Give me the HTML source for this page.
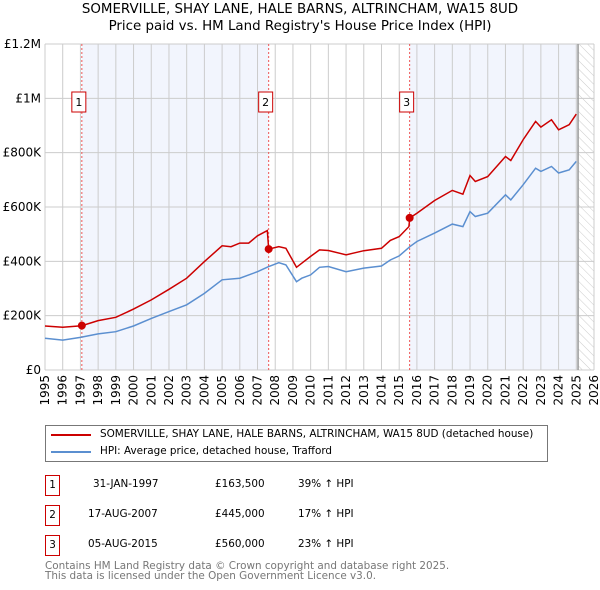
<!DOCTYPE html>
<html><head><meta charset="utf-8"><style>
body{margin:0;width:600px;height:590px;background:#fff;font-family:"DejaVu Sans","Liberation Sans",sans-serif;overflow:hidden;position:relative}
.t{position:absolute;font-size:10.4px;color:#000;white-space:nowrap}
.box{position:absolute;width:15px;height:21px;border:1px solid #c00;box-sizing:border-box;font-size:10.4px;text-align:center;line-height:19px;background:#fff}
</style></head><body>
<div class="t" style="left:0;width:600px;text-align:center;top:2px;font-size:13.4px">SOMERVILLE, SHAY LANE, HALE BARNS, ALTRINCHAM, WA15 8UD</div>
<div class="t" style="left:0;width:600px;text-align:center;top:19px;font-size:13.4px">Price paid vs. HM Land Registry's House Price Index (HPI)</div>
<svg id="chart" width="600" height="420" style="position:absolute;left:0;top:0"></svg>
<div style="position:absolute;left:45px;top:425px;width:503px;height:37px;border:1px solid #777;box-sizing:border-box">
 <div><div style="position:absolute;left:5px;top:8px;width:40px;height:2px;background:#c00"></div><div class="t" style="left:54px;top:2px">SOMERVILLE, SHAY LANE, HALE BARNS, ALTRINCHAM, WA15 8UD (detached house)</div></div>
 <div><div style="position:absolute;left:5px;top:25px;width:40px;height:2px;background:#5b8fd0"></div><div class="t" style="left:54px;top:19px">HPI: Average price, detached house, Trafford</div></div>
</div>
<div>
 <div class="box" style="left:45px;top:475px">1</div>
 <div class="t" style="left:93px;top:478px">31-JAN-1997</div>
 <div class="t" style="left:215px;top:478px">£163,500</div>
 <div class="t" style="left:298px;top:478px">39% ↑ HPI</div>
</div>
<div>
 <div class="box" style="left:45px;top:505px">2</div>
 <div class="t" style="left:88px;top:508px">17-AUG-2007</div>
 <div class="t" style="left:215px;top:508px">£445,000</div>
 <div class="t" style="left:298px;top:508px">17% ↑ HPI</div>
</div>
<div>
 <div class="box" style="left:45px;top:535px">3</div>
 <div class="t" style="left:88px;top:538px">05-AUG-2015</div>
 <div class="t" style="left:215px;top:538px">£560,000</div>
 <div class="t" style="left:298px;top:538px">23% ↑ HPI</div>
</div>
<div class="t" style="left:45px;top:561px;color:#777;line-height:10px">Contains HM Land Registry data © Crown copyright and database right 2025.<br>This data is licensed under the Open Government Licence v3.0.</div>
<script>
const hpiYears=[1995,1996,1997,1998,1999,2000,2001,2002,2003,2004,2005,2006,2007,2007.6,2008.2,2008.6,2009.2,2009.5,2010,2010.5,2011,2012,2013,2014,2014.5,2015,2015.6,2016,2017,2018,2018.6,2019,2019.3,2020,2021,2021.3,2022,2022.7,2023,2023.6,2024,2024.6,2025];
const hpiValues=[117,110,120,133,141,162,190,215,240,282,332,338,362,380,395,387,325,338,350,378,381,362,375,383,405,420,454,473,504,537,528,583,565,577,645,626,682,743,731,749,725,737,768];
const priceYears=[1995,1996,1997.08,1998,1999,2000,2001,2002,2003,2004,2005,2005.5,2006,2006.5,2007,2007.55,2007.63,2008.2,2008.6,2009.2,2009.5,2010,2010.5,2011,2012,2013,2014,2014.5,2015,2015.55,2015.6,2016,2017,2018,2018.6,2019,2019.3,2020,2021,2021.3,2022,2022.7,2023,2023.6,2024,2024.6,2025];
const priceValues=[162,157,163,182,194,224,258,297,338,399,457,454,467,467,494,513,445,454,448,378,393,418,442,440,424,439,448,477,491,528,560,577,624,661,647,716,694,712,786,771,848,915,894,921,884,903,942];
const saleYears=[1997.08,2007.63,2015.59];
const saleValues=[163.5,445,560];
const yTicks=[0,200,400,600,800,1000,1200];
const yLabels=["£0","£200K","£400K","£600K","£800K","£1M","£1.2M"];
const xTicks=[1995,1996,1997,1998,1999,2000,2001,2002,2003,2004,2005,2006,2007,2008,2009,2010,2011,2012,2013,2014,2015,2016,2017,2018,2019,2020,2021,2022,2023,2024,2025,2026];
const L=45,R=594,T=44,B=370;
const x=y=>L+(y-1995)/(2026-1995)*(R-L);
const yv=v=>B-v/1200*(B-T);
const svg=document.getElementById('chart');
const NS='http://www.w3.org/2000/svg';
const FF='DejaVu Sans, Liberation Sans, sans-serif';
function mk(tag,attrs){const e=document.createElementNS(NS,tag);for(const k in attrs)e.setAttribute(k,attrs[k]);svg.appendChild(e);return e;}
const defs=mk('defs',{});
defs.innerHTML='<pattern id="hatch" width="6" height="6" patternUnits="userSpaceOnUse" patternTransform="rotate(-45)"><line x1="0" y1="0" x2="0" y2="6" stroke="#ccc" stroke-width="1"/></pattern>';
let e;
e=mk('rect',{x:x(saleYears[0]),y:T,width:x(saleYears[1])-x(saleYears[0]),height:B-T,fill:'#f2f5fd'});


e=mk('rect',{x:x(saleYears[2]),y:T,width:x(2025.1)-x(saleYears[2]),height:B-T,fill:'#f2f5fd'});


e=mk('rect',{x:x(2025.1),y:T,width:R-x(2025.1),height:B-T,fill:'url(#hatch)'});


xTicks.forEach((t,i)=>{
 e=mk('line',{x1:x(t),x2:x(t),y1:T,y2:B,stroke:'#ccc','stroke-width':1});
 
 
 e=mk('text',{x:0,y:0,'font-size':12,'text-anchor':'end','dominant-baseline':'central',transform:`translate(${x(t)},${B+5}) rotate(-90)`,'font-family':FF});
 e.textContent=t;
 
 
});
yTicks.forEach((t,i)=>{
 e=mk('line',{x1:L,x2:R,y1:yv(t),y2:yv(t),stroke:'#ccc','stroke-width':1});
 
 
 e=mk('text',{x:L-4,y:yv(t)+4,'font-size':12,'text-anchor':'end','font-family':FF});
 e.textContent=yLabels[i];
 
 
});
e=mk('line',{x1:x(2025.1),x2:x(2025.1),y1:T,y2:B,stroke:'#999','stroke-width':1.5});


saleYears.forEach((s,i)=>{
 e=mk('line',{x1:x(s),x2:x(s),y1:T,y2:B,stroke:'#e55','stroke-width':1,'stroke-dasharray':'2,2'});
 
 
});
const pts=(xs,vs)=>xs.map((t,i)=>x(t).toFixed(1)+','+yv(vs[i]).toFixed(1)).join(' ');
e=mk('polyline',{points:pts(hpiYears,hpiValues),fill:'none',stroke:'#5b8fd0','stroke-width':1.5});


e=mk('polyline',{points:pts(priceYears,priceValues),fill:'none',stroke:'#c00','stroke-width':1.5});


saleYears.forEach((s,i)=>{
 e=mk('circle',{cx:x(s),cy:yv(saleValues[i]),r:4,fill:'#c00'});
 
 
 e=mk('rect',{x:x(s)-10,y:92,width:14,height:20,fill:'#fff',stroke:'#c00','stroke-width':1});
 
 
 e=mk('text',{x:x(s)-3,y:106,'font-size':11,'text-anchor':'middle','font-family':FF});
 e.textContent=String(i+1);
 
 
});
</script>
</body></html>
